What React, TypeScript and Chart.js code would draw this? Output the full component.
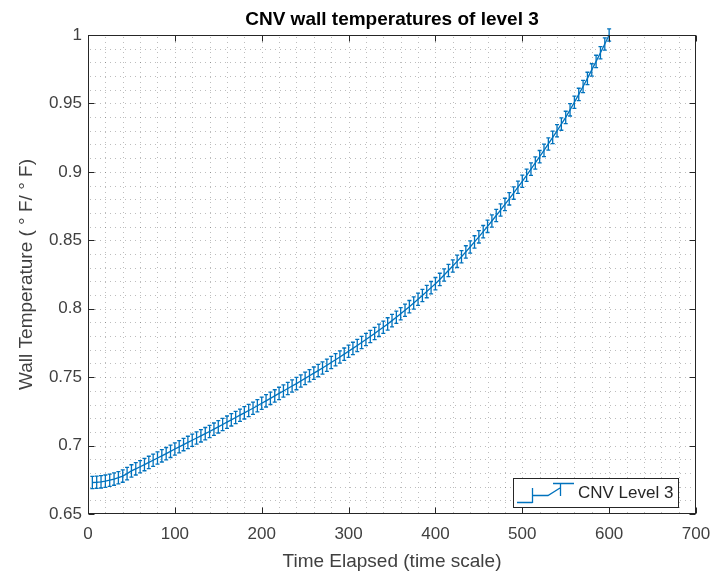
import React, { useEffect, useRef } from "react";
import { Chart, registerables } from "chart.js";

Chart.register(...registerables);

// Sample times (time scale units)
const TIME = [
  5, 10, 15, 20, 25, 30, 35, 40, 45, 50,
  55, 60, 65, 70, 75, 80, 85, 90, 95, 100,
  105, 110, 115, 120, 125, 130, 135, 140, 145, 150,
  155, 160, 165, 170, 175, 180, 185, 190, 195, 200,
  205, 210, 215, 220, 225, 230, 235, 240, 245, 250,
  255, 260, 265, 270, 275, 280, 285, 290, 295, 300,
  305, 310, 315, 320, 325, 330, 335, 340, 345, 350,
  355, 360, 365, 370, 375, 380, 385, 390, 395, 400,
  405, 410, 415, 420, 425, 430, 435, 440, 445, 450,
  455, 460, 465, 470, 475, 480, 485, 490, 495, 500,
  505, 510, 515, 520, 525, 530, 535, 540, 545, 550,
  555, 560, 565, 570, 575, 580, 585, 590, 595, 600,
];

// Normalised wall temperature, CNV level 3
const WALL_TEMP = [
  0.6730, 0.6732, 0.6735, 0.6740, 0.6747, 0.6755, 0.6765, 0.6777, 0.6795, 0.6815,
  0.6830, 0.6845, 0.6861, 0.6877, 0.6893, 0.6909, 0.6925, 0.6941, 0.6958, 0.6975,
  0.6991, 0.7007, 0.7023, 0.7039, 0.7055, 0.7071, 0.7087, 0.7103, 0.7120, 0.7137,
  0.7154, 0.7171, 0.7188, 0.7205, 0.7222, 0.7239, 0.7256, 0.7273, 0.7291, 0.7309,
  0.7327, 0.7345, 0.7363, 0.7381, 0.7399, 0.7417, 0.7435, 0.7453, 0.7472, 0.7491,
  0.7510, 0.7529, 0.7548, 0.7567, 0.7587, 0.7607, 0.7627, 0.7647, 0.7668, 0.7689,
  0.7710, 0.7731, 0.7753, 0.7775, 0.7797, 0.7819, 0.7842, 0.7865, 0.7889, 0.7913,
  0.7938, 0.7963, 0.7989, 0.8015, 0.8042, 0.8069, 0.8097, 0.8125, 0.8154, 0.8183,
  0.8214, 0.8246, 0.8279, 0.8312, 0.8346, 0.8380, 0.8415, 0.8451, 0.8488, 0.8525,
  0.8563, 0.8602, 0.8641, 0.8681, 0.8721, 0.8762, 0.8803, 0.8845, 0.8888, 0.8931,
  0.8975, 0.9020, 0.9065, 0.9111, 0.9157, 0.9204, 0.9252, 0.9300, 0.9349, 0.9398,
  0.9453, 0.9509, 0.9566, 0.9624, 0.9683, 0.9745, 0.9807, 0.9870, 0.9934, 1.0000,
];

// Half-height of each error bar
const ERR_HALF = 0.0045;

const X_TICKS = [0, 100, 200, 300, 400, 500, 600, 700];
const Y_TICKS = [0.65, 0.7, 0.75, 0.8, 0.85, 0.9, 0.95, 1];
const X_MINOR_STEP = 20;
const Y_MINOR_STEP = 0.01;

const TITLE = "CNV wall temperatures of level 3";
const X_LABEL = "Time Elapsed (time scale)";
const Y_LABEL = "Wall Temperature ( \u00B0 F/ \u00B0 F)";
const SERIES_NAME = "CNV Level 3";

const BLUE = "#0072BD";
const AXIS = "#262626";
const TEXT = "#404040";
const GRID = "rgba(38,38,38,0.3)";
const FONT = "'Liberation Sans', Arial, Helvetica, sans-serif";

const CAP_HALF = 2;
const TICK_LEN = 6;

const axesPlugin = {
  id: "matlabAxes",
  beforeDatasetsDraw(chart: any) {
    const { ctx, chartArea: a, scales } = chart;
    const x = scales.x;
    const y = scales.y;
    ctx.save();
    ctx.strokeStyle = GRID;
    ctx.lineWidth = 1;
    ctx.setLineDash([1, 4]);
    const x0 = X_TICKS[0];
    const x1 = X_TICKS[X_TICKS.length - 1];
    const nx = Math.round((x1 - x0) / X_MINOR_STEP);
    for (let i = 1; i < nx; i++) {
      const px = Math.round(x.getPixelForValue(x0 + i * X_MINOR_STEP)) + 0.5;
      ctx.beginPath();
      ctx.moveTo(px, a.top + 2);
      ctx.lineTo(px, a.bottom);
      ctx.stroke();
    }
    const y0 = Y_TICKS[0];
    const y1 = Y_TICKS[Y_TICKS.length - 1];
    const ny = Math.round((y1 - y0) / Y_MINOR_STEP);
    for (let j = 1; j < ny; j++) {
      const py = Math.round(y.getPixelForValue(y0 + j * Y_MINOR_STEP)) + 0.5;
      ctx.beginPath();
      ctx.moveTo(a.left + 2, py);
      ctx.lineTo(a.right, py);
      ctx.stroke();
    }
    ctx.restore();
  },
  afterDatasetsDraw(chart: any) {
    const { ctx, scales } = chart;
    const x = scales.x;
    const y = scales.y;
    ctx.save();
    ctx.strokeStyle = BLUE;
    ctx.lineWidth = 1.3;
    ctx.beginPath();
    TIME.forEach((t, i) => {
      const px = x.getPixelForValue(t);
      const top = y.getPixelForValue(WALL_TEMP[i] + ERR_HALF);
      const bot = y.getPixelForValue(WALL_TEMP[i] - ERR_HALF);
      ctx.moveTo(px, top);
      ctx.lineTo(px, bot);
      ctx.moveTo(px - CAP_HALF, top);
      ctx.lineTo(px + CAP_HALF, top);
      ctx.moveTo(px - CAP_HALF, bot);
      ctx.lineTo(px + CAP_HALF, bot);
    });
    ctx.stroke();
    ctx.restore();
  },
  afterDraw(chart: any) {
    const { ctx, chartArea: a, scales } = chart;
    const x = scales.x;
    const y = scales.y;
    ctx.save();
    // box and inward ticks
    ctx.strokeStyle = AXIS;
    ctx.lineWidth = 1;
    const L = Math.round(a.left) + 0.5;
    const R = Math.round(a.right) - 0.5;
    const T = Math.round(a.top) + 0.5;
    const B = Math.round(a.bottom) - 0.5;
    ctx.strokeRect(L, T, R - L, B - T);
    ctx.beginPath();
    X_TICKS.forEach((v) => {
      const px = Math.round(x.getPixelForValue(v)) + 0.5;
      ctx.moveTo(px, B);
      ctx.lineTo(px, B - TICK_LEN);
      ctx.moveTo(px, T);
      ctx.lineTo(px, T + TICK_LEN);
    });
    Y_TICKS.forEach((v) => {
      const py = Math.round(y.getPixelForValue(v)) + 0.5;
      ctx.moveTo(L, py);
      ctx.lineTo(L + TICK_LEN, py);
      ctx.moveTo(R, py);
      ctx.lineTo(R - TICK_LEN, py);
    });
    ctx.stroke();

    // title
    ctx.fillStyle = "#000";
    ctx.font = `bold 19px ${FONT}`;
    ctx.textAlign = "center";
    ctx.textBaseline = "alphabetic";
    ctx.fillText(TITLE, (a.left + a.right) / 2, 25);

    // legend
    const lx = 513.5;
    const ly = 478.5;
    const lw = 165;
    const lh = 29;
    ctx.fillStyle = "#fff";
    ctx.fillRect(lx, ly, lw, lh);
    ctx.strokeStyle = AXIS;
    ctx.strokeRect(lx, ly, lw, lh);
    ctx.strokeStyle = BLUE;
    ctx.lineWidth = 1.3;
    ctx.beginPath();
    ctx.moveTo(517, 502.5);
    ctx.lineTo(532.5, 502.5);
    ctx.moveTo(532.5, 488);
    ctx.lineTo(532.5, 503);
    ctx.moveTo(532.5, 495.5);
    ctx.lineTo(548, 495.5);
    ctx.lineTo(560, 488);
    ctx.moveTo(560.5, 483);
    ctx.lineTo(560.5, 496);
    ctx.moveTo(553, 483.5);
    ctx.lineTo(574, 483.5);
    ctx.stroke();
    ctx.fillStyle = AXIS;
    ctx.font = `17px ${FONT}`;
    ctx.textAlign = "left";
    ctx.textBaseline = "middle";
    ctx.fillText(SERIES_NAME, 578, 493.5);
    ctx.restore();
  },
};

export default function App() {
  const canvasRef = useRef<HTMLCanvasElement | null>(null);

  useEffect(() => {
    const canvas = canvasRef.current;
    if (!canvas) return;
    const points = TIME.map((t, i) => ({ x: t, y: WALL_TEMP[i] }));
    const chart = new Chart(canvas, {
      type: "line",
      data: {
        datasets: [
          {
            label: SERIES_NAME,
            data: points,
            borderColor: BLUE,
            borderWidth: 1.3,
            pointRadius: 0,
            fill: false,
            tension: 0,
            clip: false as any,
          },
        ],
      },
      options: {
        animation: false,
        responsive: false,
        devicePixelRatio: 1,
        layout: { padding: { top: 35, right: 18, bottom: 0, left: 0 } },
        plugins: {
          legend: { display: false },
          title: { display: false },
          tooltip: { enabled: false },
        },
        scales: {
          x: {
            type: "linear",
            min: X_TICKS[0],
            max: X_TICKS[X_TICKS.length - 1],
            grid: { display: false, drawTicks: false },
            border: { display: false },
            afterBuildTicks: (s: any) => {
              s.ticks = X_TICKS.map((v) => ({ value: v }));
            },
            afterFit: (s: any) => {
              s.height = 66;
              s.paddingLeft = 0;
              s.paddingRight = 0;
            },
            ticks: {
              autoSkip: false,
              maxRotation: 0,
              padding: 10,
              color: TEXT,
              font: { family: FONT, size: 17 },
              callback: (v: any) => String(v),
            },
            title: {
              display: true,
              text: X_LABEL,
              color: TEXT,
              font: { family: FONT, size: 19 },
              padding: { top: 0, bottom: 7 },
            },
          },
          y: {
            type: "linear",
            min: Y_TICKS[0],
            max: Y_TICKS[Y_TICKS.length - 1],
            grid: { display: false, drawTicks: false },
            border: { display: false },
            afterBuildTicks: (s: any) => {
              s.ticks = Y_TICKS.map((v) => ({ value: v }));
            },
            afterFit: (s: any) => {
              s.width = 88;
              s.paddingTop = 0;
              s.paddingBottom = 0;
            },
            ticks: {
              autoSkip: false,
              padding: 6,
              color: TEXT,
              font: { family: FONT, size: 17 },
              callback: (v: any) => String(v),
            },
            title: {
              display: true,
              text: Y_LABEL,
              color: TEXT,
              font: { family: FONT, size: 19 },
              padding: { top: 15, bottom: 0 },
            },
          },
        },
      },
      plugins: [axesPlugin],
    });
    return () => chart.destroy();
  }, []);

  return (
    <div style={{ position: "absolute", left: 0, top: 0, width: 714, height: 580, background: "#fff" }}>
      <canvas ref={canvasRef} width={714} height={580} style={{ width: 714, height: 580 }} />
    </div>
  );
}
